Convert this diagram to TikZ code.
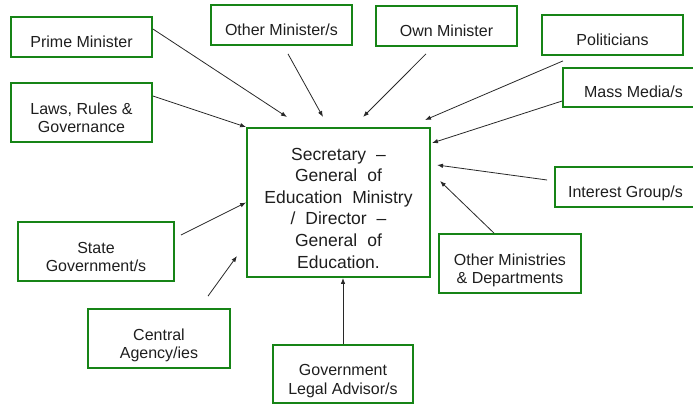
\documentclass[tikz,border=0pt]{standalone}
\usepackage{fontspec}
\setmainfont{Liberation Sans}
\usetikzlibrary{arrows.meta}
\definecolor{boxgreen}{RGB}{22,132,22}
\definecolor{txtgray}{RGB}{30,30,30}
\definecolor{arrowgray}{RGB}{40,40,40}
\begin{document}
\begin{tikzpicture}[
	x=1pt, y=-1pt,
	actor/.style={draw=boxgreen, line width=1.8pt, minimum width=141pt, minimum height=40pt,
		inner sep=0pt, align=center, text=txtgray, font=\fontsize{16}{18.3}\selectfont,
		text height=20.5pt, text depth=0pt},
	pair/.style={actor, minimum height=59pt, text height=40pt},
	office/.style={actor, minimum width=183pt, minimum height=149pt,
		font=\fontsize{17.5}{21.6}\selectfont, text height=131pt,
		execute at begin node={\spaceskip=0.57em\relax}},
	infl/.style={draw=arrowgray, line width=0.8pt, -{Latex[length=6pt,width=4.5pt]}}
	]
	\useasboundingbox (0,0) rectangle (693,405);

	\node[office] (central) at (338.5,202.5) {Secretary --\\General of\\Education Ministry\\/ Director --\\General of\\Education.};

	\node[actor] (pm) at (81.5,37) {Prime Minister};
	\node[pair] (laws) at (81.5,112.5) {Laws, Rules \&\\Governance};
	\node[actor] (othmin) at (281.5,25) {Other Minister/s};
	\node[actor] (own) at (446.5,26) {Own Minister};
	\node[actor] (pol) at (612.5,35) {Politicians};
	\node[actor, minimum height=39pt] (media) at (633.5,87.5) {Mass Media/s};
	\node[actor] (interest) at (625.5,187) {Interest Group/s};
	\node[pair, minimum width=142pt] (omd) at (510,263.5) {Other Ministries\\\& Departments};
	\node[pair, minimum width=156pt] (state) at (96,251.5) {State\\Government/s};
	\node[pair, minimum width=142pt] (ca) at (159,338.5) {Central\\Agency/ies};
	\node[pair, minimum width=140pt, minimum height=58pt] (gla) at (343,374) {Government\\Legal Advisor/s};

	% loose arrow heads near the central box
	\coordinate (pm-in) at (287,117);
	\coordinate (othmin-in) at (323,117);
	\coordinate (own-in) at (363,117);
	\coordinate (pol-in) at (425,120);
	\coordinate (media-in) at (432,143);
	\coordinate (interest-in) at (437,165);
	\coordinate (omd-in) at (440,181);
	\coordinate (ca-in) at (237,256);

	\draw[infl] ([yshift=8pt]pm.east) -- (pm-in);
	\draw[infl] ([xshift=6.5pt,yshift=-8pt]othmin.south) -- (othmin-in);
	\draw[infl] ([yshift=16.5pt]laws.east) -- (central.north west);
	\draw[infl] ([xshift=-20.5pt,yshift=-7pt]own.south) -- (own-in);
	\draw[infl] ([xshift=-49.5pt,yshift=-5pt]pol.south) -- (pol-in);
	\draw[infl] ([yshift=-13.5pt]media.west) -- (media-in);
	\draw[infl] ([xshift=-7pt,yshift=7pt]interest.west) -- (interest-in);
	\draw[infl] ([xshift=-16pt]omd.north) -- (omd-in);
	\draw[infl] (gla.north) -- (gla.north |- central.south);
	\draw[infl] ([xshift=6pt,yshift=16.5pt]state.east) -- (central.west);
	\draw[infl] ([xshift=49pt,yshift=12pt]ca.north) -- (ca-in);

\end{tikzpicture}
\end{document}
